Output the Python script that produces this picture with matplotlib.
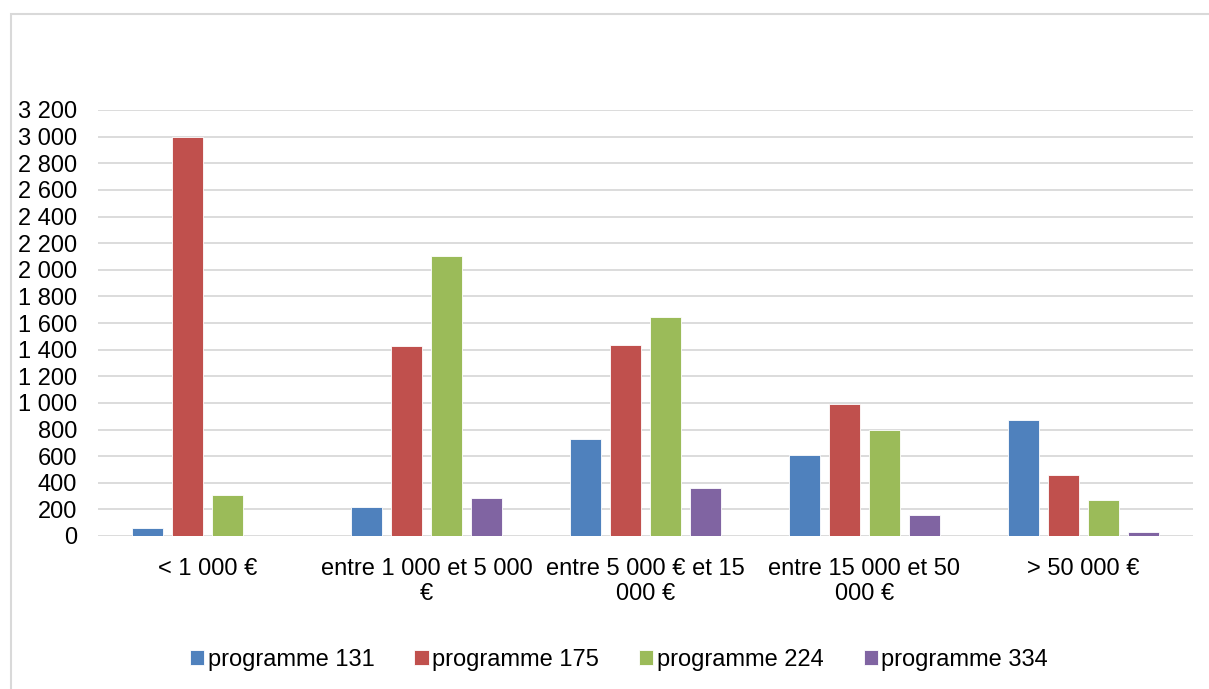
import numpy as np
import matplotlib.pyplot as plt
from matplotlib.patches import Rectangle

plt.rcParams['font.family'] = ['Liberation Sans', 'DejaVu Sans']

# Data
categories = [
    "< 1 000 €",
    "entre 1 000 et 5 000\n€",
    "entre 5 000 € et 15\n000 €",
    "entre 15 000 et 50\n000 €",
    "> 50 000 €",
]
series_names = ["programme 131", "programme 175", "programme 224", "programme 334"]
prog_131 = [60, 215, 730, 610, 870]
prog_175 = [3000, 1430, 1435, 990, 455]
prog_224 = [305, 2100, 1645, 795, 270]
prog_334 = [0, 285, 360, 155, 30]
yticks = np.arange(0, 3201, 200)

colors = ["#4F81BD", "#C0504D", "#9BBB59", "#8064A2"]
series = [prog_131, prog_175, prog_224, prog_334]

W, H = 1209, 689
fig = plt.figure(figsize=(W / 100, H / 100), dpi=100)

# chart frame (top and left visible, rest runs off the image)
fig.patches.append(Rectangle((11 / W, -0.05), 1.1, 1 - 14 / H + 0.05,
                             transform=fig.transFigure, fill=False,
                             edgecolor="#D9D9D9", linewidth=1.5))

ax = fig.add_axes([98 / W, (H - 536) / H, (1193 - 98) / W, 426 / H])

x = np.arange(len(categories))
step = 0.183
width = 0.142
for i, (vals, col, name) in enumerate(zip(series, colors, series_names)):
    ax.bar(x + (i - 1.5) * step, vals, width, color=col, edgecolor="white",
           linewidth=0.6, label=name, zorder=3)

ax.set_xlim(-0.5, len(categories) - 0.5)
ax.set_ylim(0, 3200)
ax.set_yticks(yticks)
ax.set_yticklabels([f"{v:,}".replace(",", " ") for v in yticks])
ax.set_xticks(x)
ax.set_xticklabels(categories, linespacing=1.15)
ax.tick_params(axis="both", length=0, labelsize=17, colors="black")
ax.tick_params(axis="y", pad=15)
ax.tick_params(axis="x", pad=16)

ax.grid(axis="y", color="#D9D9D9", linewidth=1.3, zorder=0)
ax.set_axisbelow(True)
for s in ax.spines.values():
    s.set_visible(False)

fig.legend(loc="center", bbox_to_anchor=(619 / W, 1 - 660 / H), ncol=4,
           frameon=False, fontsize=17, handlelength=0.6, handleheight=0.6,
           handletextpad=0.15, columnspacing=1.7, borderaxespad=0)

fig.savefig("out.png", dpi=100)
plt.close(fig)
